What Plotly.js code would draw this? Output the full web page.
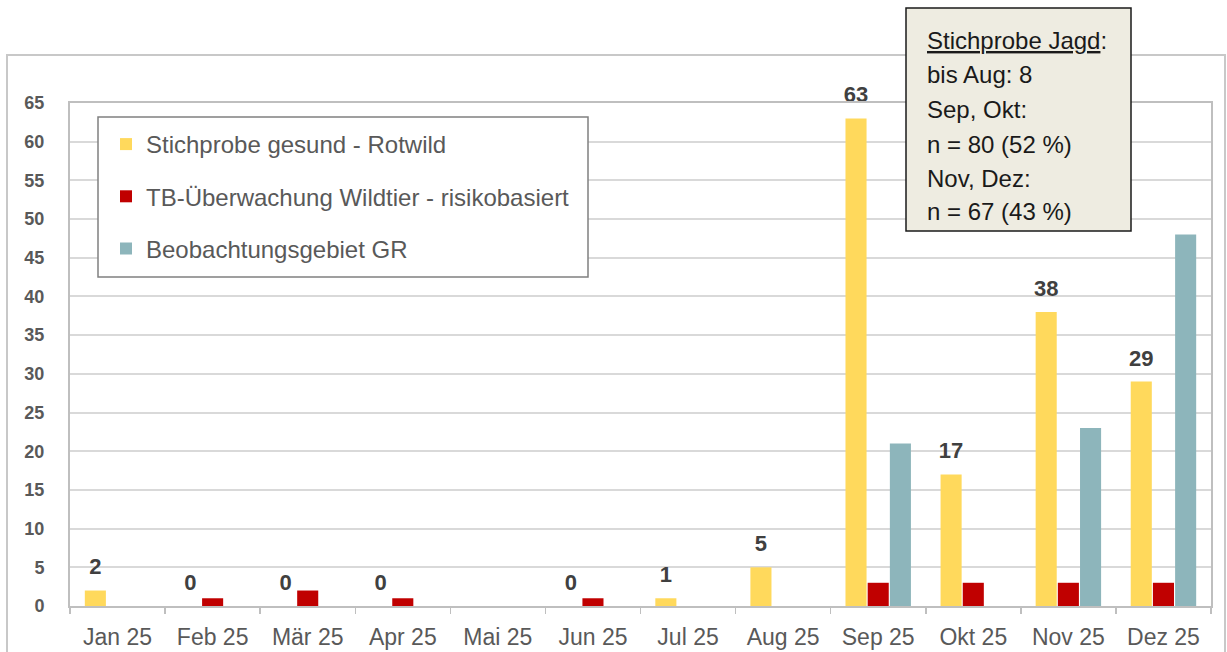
<!DOCTYPE html>
<html>
<head>
<meta charset="utf-8">
<script src="https://cdn.plot.ly/plotly-3.0.1.min.js"></script>
<style>html,body{margin:0;padding:0;background:#fff;}#chart{width:1227px;height:652px;}</style>
</head>
<body>
<div id="chart"></div>
<script>
const months = ["Jan 25","Feb 25","Mär 25","Apr 25","Mai 25","Jun 25","Jul 25","Aug 25","Sep 25","Okt 25","Nov 25","Dez 25"];
const rotwild = [2,0,0,0,null,0,1,5,63,17,38,29];
const tbWildtier = [null,1,2,1,null,1,null,null,3,3,3,3];
const beobachtung = [null,null,null,null,null,null,null,null,21,null,23,48];
const seriesNames = ["Stichprobe gesund - Rotwild","TB-Überwachung Wildtier - risikobasiert","Beobachtungsgebiet GR"];
const noteLines = ["<u>Stichprobe Jagd</u>:","bis Aug: 8","Sep, Okt:","n = 80 (52 %)","Nov, Dez:","n = 67 (43 %)"];

const FONT = "Liberation Sans, Arial, sans-serif";
const W = 1227, H = 652, L = 70, R = 16, T = 103, B = 46;
const pw = W - L - R, ph = H - T - B;
const px = x => (x - L) / pw;
const py = y => (H - B - y) / ph;

const traces = [
  {type:"bar", name:seriesNames[0], x:months, y:rotwild, marker:{color:"#FFD95C"},
   legendgroup:"a", texttemplate:"<span style='font-size:22px'>%{y}</span><br>\u00a0", textposition:"outside", cliponaxis:false, constraintext:"none",
   textfont:{family:FONT, size:8.5, color:"#404040", weight:"bold"}, hoverinfo:"x+y"},
  {type:"bar", name:seriesNames[1], x:months, y:tbWildtier, marker:{color:"#C00000"}, legendgroup:"b"},
  {type:"bar", name:seriesNames[2], x:months, y:beobachtung, marker:{color:"#8DB5BB"}, legendgroup:"c"}
];

const shapes = [
  {type:"rect", xref:"paper", yref:"paper", x0:px(7), x1:px(1225), y0:py(700), y1:py(55),
   line:{color:"#C8C8C8", width:2}, fillcolor:"rgba(0,0,0,0)", layer:"below"},
  {type:"rect", xref:"paper", yref:"paper", x0:px(98), x1:px(588), y0:py(277), y1:py(117),
   line:{color:"#808080", width:1.5}, fillcolor:"#ffffff", layer:"above"},
  {type:"rect", xref:"paper", yref:"paper", x0:px(906), x1:px(1131), y0:py(231), y1:py(8),
   line:{color:"#1a1a1a", width:1.5}, fillcolor:"#EEECE1", layer:"above"}
];

const lineY = [40,74,109,144,178,211];
const annotations = noteLines.map((t,i) => ({
  xref:"paper", yref:"paper", x:px(925), y:py(lineY[i]), xanchor:"left", yanchor:"middle",
  text:t, showarrow:false, font:{family:FONT, size:24, color:"#1a1a1a"}
}));

const layout = {
  width:W, height:H,
  margin:{l:L, r:R, t:T, b:B, pad:0},
  paper_bgcolor:"#ffffff", plot_bgcolor:"#ffffff",
  barmode:"group", bargap:0.3, bargroupgap:0.05,
  font:{family:FONT, color:"#595959"},
  showlegend:true,
  legend:{x:px(106), y:py(122), xanchor:"left", yanchor:"top", bgcolor:"rgba(0,0,0,0)", borderwidth:0,
    traceorder:"grouped", tracegroupgap:18, font:{family:FONT, size:24, color:"#595959"}},
  xaxis:{type:"category", showgrid:false, showline:true, linecolor:"#BFBFBF", linewidth:2, mirror:true,
    ticks:"outside", tickson:"boundaries", ticklen:6, tickcolor:"#BFBFBF", tickwidth:1.5,
    tickfont:{family:FONT, size:23, color:"#595959"}, ticklabelstandoff:9, fixedrange:true},
  yaxis:{range:[0,65], tickvals:[0,5,10,15,20,25,30,35,40,45,50,55,60,65], showgrid:true, gridcolor:"#D9D9D9", gridwidth:2,
    showline:true, linecolor:"#BFBFBF", linewidth:2, mirror:true, ticks:"", zeroline:false,
    tickfont:{family:FONT, size:18, color:"#595959", weight:"bold"}, ticklabelstandoff:20, fixedrange:true},
  shapes:shapes, annotations:annotations
};

Plotly.newPlot("chart", traces, layout, {displayModeBar:false, staticPlot:true});
</script>
</body>
</html>
